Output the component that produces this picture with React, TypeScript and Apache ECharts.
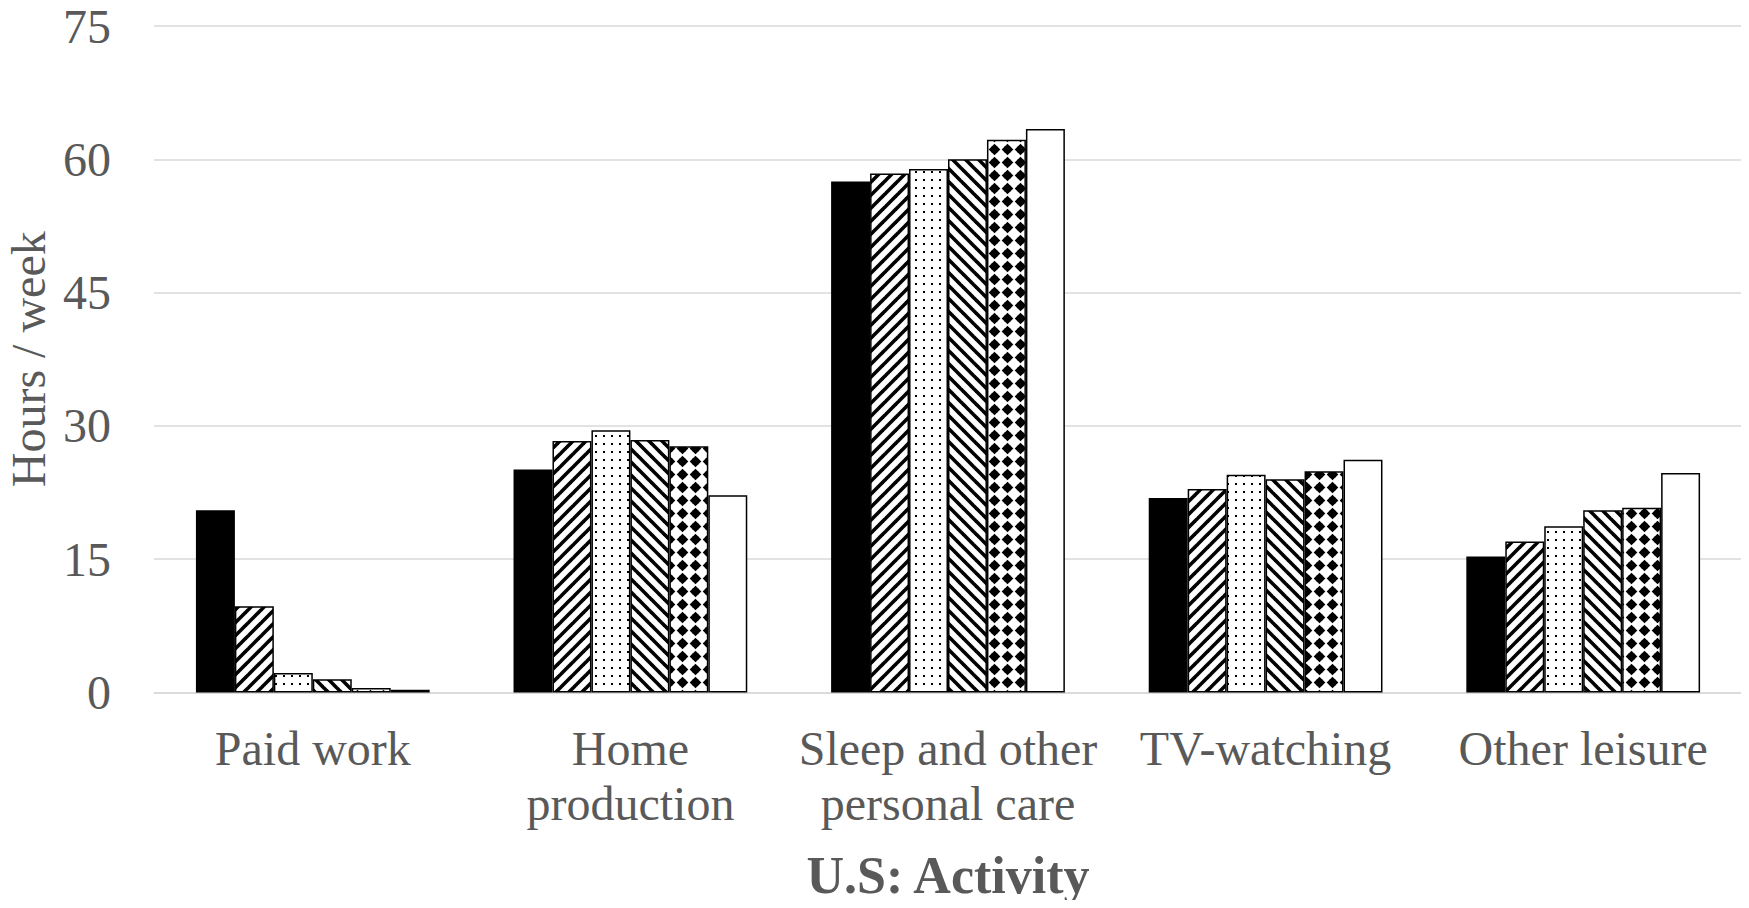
import React, { useEffect, useRef } from "react";
import * as echarts from "echarts";

const categories = ["Paid work", "Home\nproduction", "Sleep and other\npersonal care", "TV-watching", "Other leisure"];
const series1 = [20.5, 25.1, 57.5, 21.9, 15.3];
const series2 = [9.7, 28.3, 58.4, 22.9, 17.0];
const series3 = [2.2, 29.5, 58.9, 24.5, 18.7];
const series4 = [1.5, 28.4, 60.0, 24.0, 20.5];
const series5 = [0.5, 27.7, 62.2, 24.9, 20.8];
const series6 = [0.3, 22.2, 63.4, 26.2, 24.7];
const yTicks = [0, 15, 30, 45, 60, 75];

const FONT = '"Liberation Serif", "Times New Roman", serif';
const TEXT = "#595959";

function makeTile(size: number, draw: (ctx: CanvasRenderingContext2D) => void) {
  const c = document.createElement("canvas");
  c.width = size;
  c.height = size;
  const ctx = c.getContext("2d") as CanvasRenderingContext2D;
  ctx.fillStyle = "#ffffff";
  ctx.fillRect(0, 0, size, size);
  ctx.fillStyle = "#000000";
  draw(ctx);
  return c;
}

function stripes(up: boolean) {
  const s = 13;
  return makeTile(s, (ctx) => {
    ctx.strokeStyle = "#000";
    ctx.lineWidth = 3.6;
    for (let k = -1; k <= 1; k++) {
      ctx.beginPath();
      if (up) {
        ctx.moveTo(-2 + k * s, s + 2);
        ctx.lineTo(s + 2 + k * s, -2);
      } else {
        ctx.moveTo(-2 + k * s, -2);
        ctx.lineTo(s + 2 + k * s, s + 2);
      }
      ctx.stroke();
    }
  });
}

function dots() {
  return makeTile(8, (ctx) => {
    ctx.fillRect(3, 3, 2, 2);
  });
}

function diamonds() {
  const s = 13;
  return makeTile(s, (ctx) => {
    const c = s / 2;
    const r = 5.8;
    ctx.beginPath();
    ctx.moveTo(c, c - r);
    ctx.lineTo(c + r, c);
    ctx.lineTo(c, c + r);
    ctx.lineTo(c - r, c);
    ctx.closePath();
    ctx.fill();
    ctx.fillRect(c - 3, c - 3, 6, 6);
  });
}

export default function App() {
  const ref = useRef<HTMLDivElement>(null);
  useEffect(() => {
    if (!ref.current) return;
    const chart = echarts.init(ref.current, undefined, { renderer: "svg" });
    const fills: any[] = [
      "#000000",
      { image: stripes(true), repeat: "repeat" },
      { image: dots(), repeat: "repeat" },
      { image: stripes(false), repeat: "repeat" },
      { image: diamonds(), repeat: "repeat" },
      "#ffffff",
    ];
    const data = [series1, series2, series3, series4, series5, series6];
    chart.setOption({
      animation: false,
      backgroundColor: "#ffffff",
      grid: {
        left: 154,
        right: 7,
        top: 26,
        bottom: 215.5,
        containLabel: false,
        outerBoundsMode: "none",
      },
      xAxis: {
        type: "category",
        data: categories,
        name: "U.S: Activity",
        nameLocation: "middle",
        nameGap: 157,
        nameTextStyle: { fontFamily: FONT, fontSize: 52, fontWeight: "bold", color: TEXT },
        axisLine: { show: true, lineStyle: { color: "#d9d9d9", width: 1.5 } },
        axisTick: { show: false },
        axisLabel: {
          interval: 0,
          margin: 28,
          fontFamily: FONT,
          fontSize: 48,
          lineHeight: 55,
          color: TEXT,
        },
      },
      yAxis: {
        type: "value",
        min: 0,
        max: 75,
        interval: 15,
        name: "Hours / week",
        nameLocation: "middle",
        nameGap: 99,
        nameTextStyle: { fontFamily: FONT, fontSize: 48, color: TEXT },
        axisLine: { show: false },
        axisTick: { show: false },
        axisLabel: {
          margin: 43,
          fontFamily: FONT,
          fontSize: 48,
          color: TEXT,
          formatter: (v: number) => (yTicks.includes(v) ? String(v) : ""),
        },
        splitLine: { lineStyle: { color: "#d9d9d9", width: 1.5 } },
      },
      series: data.map((d, i) => ({
        type: "bar",
        data: d,
        barGap: "0%",
        barCategoryGap: "26.4%",
        itemStyle: { color: fills[i], borderColor: "#000000", borderWidth: 1.5 },
        emphasis: { disabled: true },
      })),
    });
    return () => chart.dispose();
  }, []);
  return <div ref={ref} style={{ width: 1749, height: 908, margin: -8 }} />;
}
